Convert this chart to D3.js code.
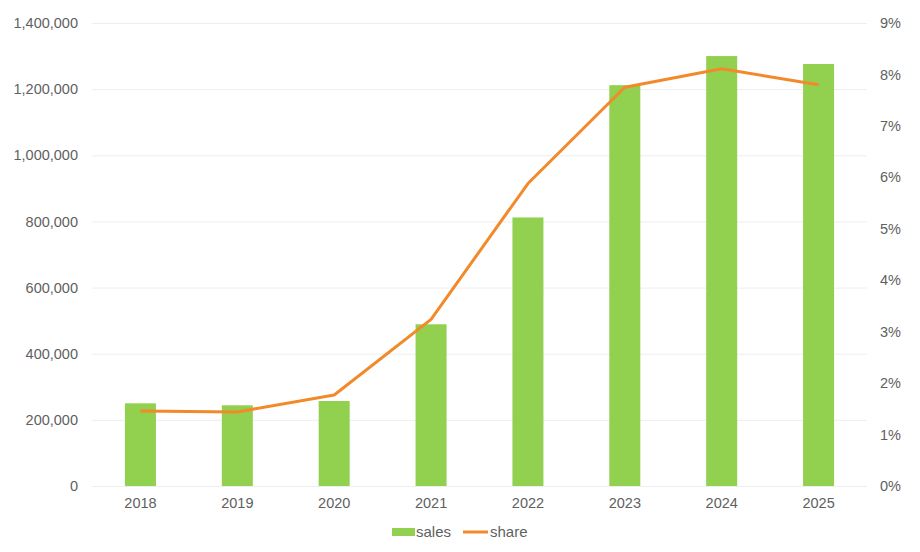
<!DOCTYPE html>
<html>
<head>
<meta charset="utf-8">
<script src="https://cdn.jsdelivr.net/npm/d3@7"></script>
<style>
  body { margin: 0; background: #fff; }
  text { font-family: "Liberation Sans", Arial, Helvetica, sans-serif; }
</style>
</head>
<body>
<div id="chart"></div>
<script>
var years = ["2018", "2019", "2020", "2021", "2022", "2023", "2024", "2025"];
var sales = [250000, 244000, 257000, 489000, 812000, 1212000, 1300000, 1276000];
var share = [0.0146, 0.0144, 0.0177, 0.0324, 0.0588, 0.0775, 0.0811, 0.0780];
var salesTicks = [0, 200000, 400000, 600000, 800000, 1000000, 1200000, 1400000];
var shareTicks = [0, 0.01, 0.02, 0.03, 0.04, 0.05, 0.06, 0.07, 0.08, 0.09];

var width = 920, height = 552;
var margin = { top: 23, right: 53, bottom: 66, left: 92 };
var w = width - margin.left - margin.right;
var h = height - margin.top - margin.bottom;
var fontSize = "14.5px";
var textColor = "#5f5f5f";

var svg = d3.select("#chart").append("svg")
    .attr("width", width)
    .attr("height", height)
    .append("g")
    .attr("transform", "translate(" + margin.left + "," + margin.top + ")");

var x = d3.scaleBand().domain(years).range([0, w]);
var yL = d3.scaleLinear().domain([0, 1400000]).range([h, 0]);
var yR = d3.scaleLinear().domain([0, 0.09]).range([h, 0]);

// gridlines
svg.append("g")
    .selectAll("line")
    .data(salesTicks)
    .enter().append("line")
    .attr("x1", 0)
    .attr("x2", w)
    .attr("y1", function (d) { return yL(d) + 0.5; })
    .attr("y2", function (d) { return yL(d) + 0.5; })
    .attr("stroke", "#eeeeee")
    .attr("stroke-width", 1);

// left axis
var leftAxis = svg.append("g")
    .call(d3.axisLeft(yL).tickValues(salesTicks).tickFormat(d3.format(",")).tickSize(0).tickPadding(14));
leftAxis.select(".domain").remove();
leftAxis.selectAll("text").attr("fill", textColor).style("font-size", fontSize);

// right axis
var rightAxis = svg.append("g")
    .attr("transform", "translate(" + w + ",0)")
    .call(d3.axisRight(yR).tickValues(shareTicks).tickFormat(d3.format(".0%")).tickSize(0).tickPadding(13));
rightAxis.select(".domain").remove();
rightAxis.selectAll("text").attr("fill", textColor).style("font-size", fontSize);

// bottom axis
var bottomAxis = svg.append("g")
    .attr("transform", "translate(0," + h + ")")
    .call(d3.axisBottom(x).tickSize(0).tickPadding(12));
bottomAxis.select(".domain").remove();
bottomAxis.selectAll("text").attr("fill", textColor).style("font-size", fontSize);

// bars
var barW = x.bandwidth() * 0.32;
svg.selectAll(".bar")
    .data(years)
    .enter().append("rect")
    .attr("class", "bar")
    .attr("x", function (d) { return x(d) + x.bandwidth() / 2 - barW / 2; })
    .attr("width", barW)
    .attr("y", function (d, i) { return yL(sales[i]); })
    .attr("height", function (d, i) { return h - yL(sales[i]); })
    .attr("fill", "#92d050");

// share line
var line = d3.line()
    .x(function (d, i) { return x(years[i]) + x.bandwidth() / 2; })
    .y(function (d) { return yR(d); });

svg.append("path")
    .datum(share)
    .attr("d", line)
    .attr("fill", "none")
    .attr("stroke", "#f28a2a")
    .attr("stroke-width", 3)
    .attr("stroke-linejoin", "round");

// legend
var legend = svg.append("g")
    .attr("transform", "translate(" + (392 - margin.left) + "," + (532 - margin.top) + ")");
legend.append("rect")
    .attr("x", 0).attr("y", -4)
    .attr("width", 23).attr("height", 8)
    .attr("fill", "#92d050");
legend.append("text")
    .attr("x", 24).attr("y", 5)
    .attr("fill", textColor)
    .style("font-size", "15px")
    .text("sales");
legend.append("line")
    .attr("x1", 71).attr("x2", 96)
    .attr("y1", 0).attr("y2", 0)
    .attr("stroke", "#f28a2a")
    .attr("stroke-width", 3);
legend.append("text")
    .attr("x", 98).attr("y", 5)
    .attr("fill", textColor)
    .style("font-size", "15px")
    .text("share");
</script>
</body>
</html>
